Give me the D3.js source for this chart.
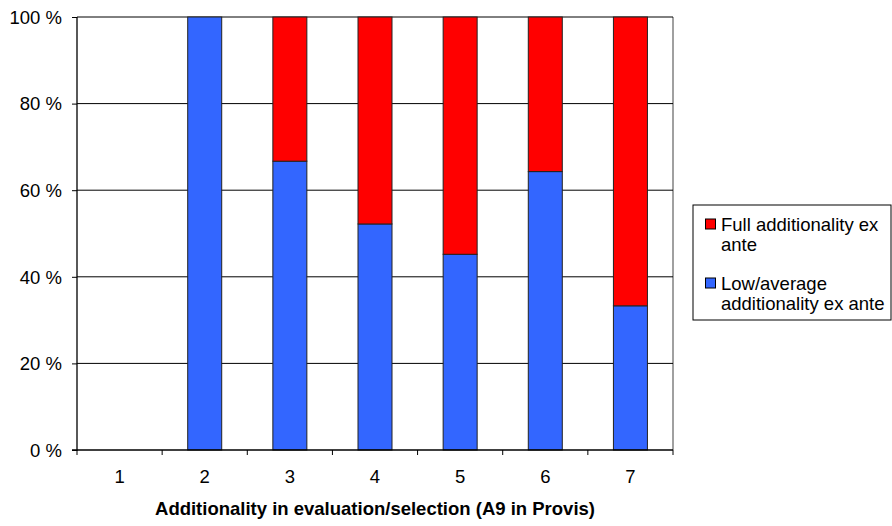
<!DOCTYPE html>
<html><head><meta charset="utf-8">
<script src="https://cdn.jsdelivr.net/npm/d3@7"></script>
<style>body{margin:0;background:#fff;} svg{display:block;font-family:"Liberation Sans",Arial,sans-serif;}</style>
</head><body>
<svg id="c" width="892" height="526"></svg>
<script>
const categories = ["1","2","3","4","5","6","7"];
const lowAvg = [0, 100, 66.7, 52.2, 45.2, 64.3, 33.3];
const fullAdd = [0, 0, 33.3, 47.8, 54.8, 35.7, 66.7];
const yTicks = [0, 20, 40, 60, 80, 100];
const seriesNames = ["Full additionality ex ante", "Low/average additionality ex ante"];
const colors = {low: "#3366FF", full: "#FF0000"};
const FS = 18.5;

const svg = d3.select("#c");
const m = {l: 77, r: 673, t: 17, b: 450};
const xb = d3.scaleBand().domain(categories).range([m.l, m.r]);
const y = d3.scaleLinear().domain([0, 100]).range([m.b, m.t]);

// plot border (right)
svg.append("line").attr("x1", m.r).attr("x2", m.r).attr("y1", m.t).attr("y2", m.b)
  .attr("stroke", "#808080").attr("stroke-width", 1.5);

// gridlines
svg.append("g").selectAll("line").data(yTicks.filter(d => d > 0)).join("line")
  .attr("x1", m.l).attr("x2", m.r).attr("y1", d => y(d)).attr("y2", d => y(d))
  .attr("stroke", "#000").attr("stroke-width", 1);

const data = categories.map((c, i) => ({c, low: lowAvg[i], full: fullAdd[i]}));
const bw = 34;
const g = svg.append("g");
data.forEach(d => {
  const cx = xb(d.c) + xb.bandwidth() / 2;
  if (d.low > 0) g.append("rect").attr("x", cx - bw/2).attr("width", bw)
    .attr("y", y(d.low)).attr("height", y(0) - y(d.low))
    .attr("fill", colors.low).attr("stroke", "#222").attr("stroke-width", 1);
  if (d.full > 0) g.append("rect").attr("x", cx - bw/2).attr("width", bw)
    .attr("y", y(d.low + d.full)).attr("height", y(d.low) - y(d.low + d.full))
    .attr("fill", colors.full).attr("stroke", "#222").attr("stroke-width", 1);
});

// y axis
const ya = svg.append("g").attr("transform", `translate(${m.l},0)`)
  .call(d3.axisLeft(y).tickValues(yTicks).tickSize(5).tickPadding(10).tickFormat(d => d + " %"));
ya.attr("font-size", FS).attr("font-family", "Liberation Sans, Arial, sans-serif");
ya.select(".domain").attr("stroke", "#000").attr("stroke-width", 1.3).attr("d", `M-5,${m.b}H0V${m.t}`);
ya.selectAll("text").attr("fill", "#000").attr("dy", "0.34em");

// x axis
const xa = svg.append("g").attr("transform", `translate(0,${m.b})`);
xa.append("line").attr("x1", m.l).attr("x2", m.r).attr("stroke", "#000").attr("stroke-width", 1.3);
const bounds = categories.map(c => xb(c)).concat([m.r]);
xa.selectAll(".tk").data(bounds).join("line").attr("class", "tk")
  .attr("x1", d => d).attr("x2", d => d).attr("y1", 0).attr("y2", 5).attr("stroke", "#000");
xa.selectAll("text").data(categories).join("text")
  .attr("x", d => xb(d) + xb.bandwidth()/2).attr("y", 33).attr("text-anchor", "middle")
  .attr("font-size", FS).attr("fill", "#000").text(d => d);

svg.append("text").attr("x", 375).attr("y", 515).attr("text-anchor", "middle")
  .attr("font-size", FS).attr("font-weight", "bold").text("Additionality in evaluation/selection (A9 in Provis)");

// legend
const lg = svg.append("g");
lg.append("rect").attr("x", 693).attr("y", 205).attr("width", 198).attr("height", 115)
  .attr("fill", "#fff").attr("stroke", "#000").attr("stroke-width", 1);
const items = [
  {lines: ["Full additionality ex", "ante"], color: colors.full, y: 224},
  {lines: ["Low/average", "additionality ex ante"], color: colors.low, y: 283}
];
items.forEach(it => {
  lg.append("rect").attr("x", 705.5).attr("y", it.y - 5).attr("width", 10).attr("height", 10)
    .attr("fill", it.color).attr("stroke", "#000").attr("stroke-width", 1);
  const t = lg.append("text").attr("x", 721).attr("y", it.y + 7).attr("font-size", FS).attr("fill", "#000");
  it.lines.forEach((l, i) => t.append("tspan").attr("x", 721).attr("dy", i ? 20 : 0).text(l));
});
</script>
</body></html>
